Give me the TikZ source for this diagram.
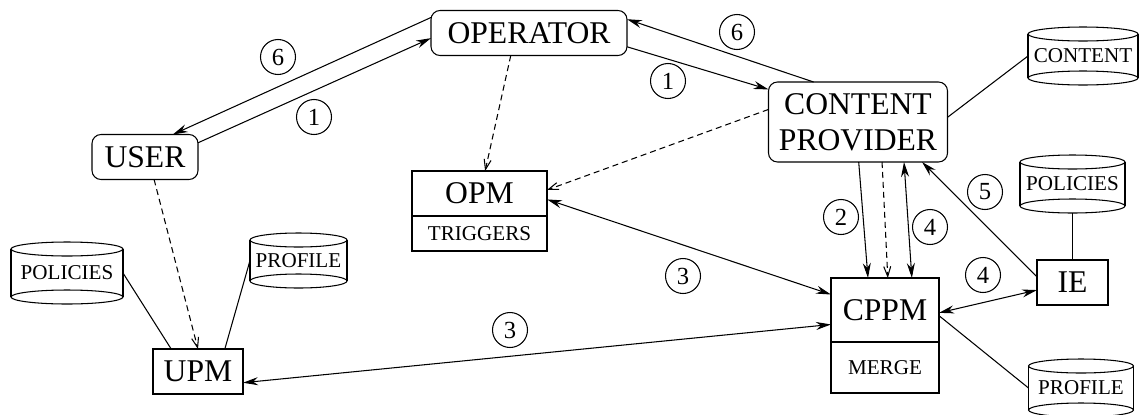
\documentclass[tikz,border=0pt]{standalone}
\usepackage{fontspec}
\setmainfont{Liberation Serif}
\usetikzlibrary{arrows.meta,positioning}

% database drum: name, centre, width, height, label
\newcommand{\dbase}[5]{%
  \node[dbtext, minimum width=#3, minimum height=#4] (#1) at (#2) {#5};
  \draw ([yshift=-1.4mm]#1.north) ellipse [x radius=#3/2, y radius=1.4mm];
  \draw ([yshift=1.4mm]#1.south) ellipse [x radius=#3/2, y radius=1.4mm];
  \draw ([yshift=-1.4mm]#1.north west) -- ([yshift=1.4mm]#1.south west);
  \draw ([yshift=-1.4mm]#1.north east) -- ([yshift=1.4mm]#1.south east);
}

\begin{document}
\begin{tikzpicture}[line width=0.6pt, >={Stealth[length=3mm,width=1.6mm]},
    rbox/.style={draw, rounded corners=1.8mm, inner sep=0pt, outer sep=0pt,
      align=center, font=\fontsize{18}{20.5}\selectfont},
    plainbox/.style={draw, inner sep=0pt, outer sep=0pt, font=\fontsize{18}{20.5}\selectfont},
    subbox/.style={draw, inner sep=0pt, outer sep=0pt, font=\fontsize{12}{14}\selectfont},
    dbtext/.style={inner sep=0pt, outer sep=0pt, font=\fontsize{12}{14}\selectfont},
    num/.style={circle, draw, inner sep=0pt, minimum size=7mm, font=\fontsize{14}{16}\selectfont},
    flow/.style={dash pattern=on 1.2mm off 0.8mm, -{Straight Barb[length=2mm,width=1.4mm]}}]
    \useasboundingbox (0,0) rectangle (22.78,-8.28);

    % actors
    \node[rbox, minimum width=3.92cm, minimum height=0.9cm] (op) at (10.58,-0.66) {OPERATOR};
    \node[rbox, minimum width=2.12cm, minimum height=0.9cm] (user) at (2.90,-3.14) {USER};
    \node[rbox, minimum width=3.58cm, minimum height=1.6cm] (cp) at (17.16,-2.44) {CONTENT\\PROVIDER};

    % policy modules
    \node[plainbox, minimum width=2.7cm, minimum height=0.9cm] (opm) at (9.59,-3.87) {OPM};
    \node[subbox, minimum width=2.7cm, minimum height=0.7cm, below=0pt of opm] (trig) {TRIGGERS};
    \node[plainbox, minimum width=2.16cm, minimum height=1.28cm] (cppm) at (17.70,-6.20) {CPPM};
    \node[subbox, minimum width=2.16cm, minimum height=1.02cm, below=0pt of cppm] (merge) {MERGE};
    \node[plainbox, minimum width=1.8cm, minimum height=0.9cm] (upm) at (3.96,-7.43) {UPM};
    \node[plainbox, minimum width=1.42cm, minimum height=0.9cm] (ie) at (21.45,-5.65) {IE};

    % stores
    \dbase{content}{21.66,-1.12}{2.2cm}{1.16cm}{CONTENT}
    \dbase{polr}{21.45,-3.68}{2.1cm}{1.16cm}{POLICIES}
    \dbase{profr}{21.62,-7.76}{2.1cm}{1.16cm}{PROFILE}
    \dbase{poll}{1.34,-5.46}{2.24cm}{1.24cm}{POLICIES}
    \dbase{profl}{5.97,-5.21}{1.94cm}{1.1cm}{PROFILE}

    % messages
    \draw[->] (op.171) -- (user.39);
    \draw[->] (user.15) -- (op.183);
    \draw[->] (op.-8) -- (cp.160);
    \draw[->] (cp.138) -- (op.8);
    \draw[<->] (opm.-5) -- (cppm.164);
    \draw[<->] (upm.-14) -- (cppm.195);
    \draw[->] (cp.-89) -- (cppm.118);
    \draw[<->] (cp.-41) -- (cppm.50);
    \draw[->] (ie.171) -- (cp.-32);
    \draw[<->] (cppm.-3) -- (ie.192);

    % policy flow
    \draw[flow] (op.231) -- (opm.76);
    \draw[flow] (cp.172) -- (opm.3);
    \draw[flow] (cp.-59) -- (cppm.85);
    \draw[flow] (user.-68) -- (upm.north);

    % store links
    \draw (cp.3) -- (content.west);
    \draw (ie.north) -- (polr.south);
    \draw (cppm.-6) -- (profr.west);
    \draw (poll.east) -- (upm.140);
    \draw (profl.west) -- (upm.40);

    % step numbers
    \node[num] (n6a) at (5.56,-1.14) {6};
    \node[num] (n1a) at (6.28,-2.34) {1};
    \node[num] (n6b) at (14.74,-0.64) {6};
    \node[num] (n1b) at (13.36,-1.62) {1};
    \node[num] (n2) at (16.82,-4.34) {2};
    \node[num] (n4a) at (18.60,-4.54) {4};
    \node[num] (n5) at (19.70,-3.84) {5};
    \node[num] (n4b) at (19.66,-5.50) {4};
    \node[num] (n3a) at (13.66,-5.52) {3};
    \node[num] (n3b) at (10.20,-6.60) {3};
\end{tikzpicture}
\end{document}
